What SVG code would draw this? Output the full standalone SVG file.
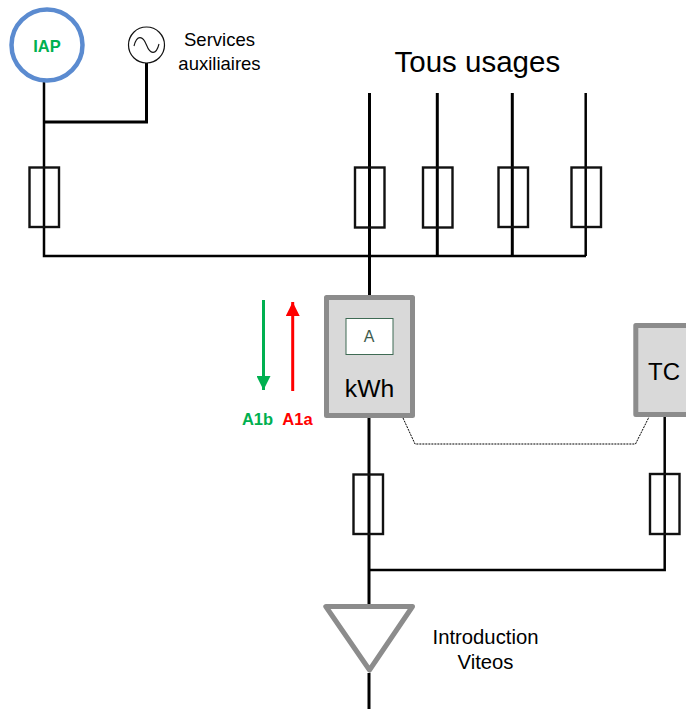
<svg xmlns="http://www.w3.org/2000/svg" width="686" height="709" viewBox="0 0 686 709">
<style>
text{font-family:"Liberation Sans",Arial,sans-serif;fill:#000}
.m{text-anchor:middle}
.w{fill:none;stroke:#000;stroke-width:3}
.f{fill:none;stroke:#111;stroke-width:2.4}
.box{fill:#d9d9d9;stroke:#8c8c8c;stroke-width:5;stroke-linejoin:round}
.b{font-weight:bold;font-size:16.500px}
</style>
<defs>
<marker id="ag" markerUnits="userSpaceOnUse" markerWidth="14" markerHeight="14" refX="14" refY="7" orient="auto"><path d="M0 0L14 7L0 14Z" fill="#00b050"/></marker>
<marker id="ar" markerUnits="userSpaceOnUse" markerWidth="14" markerHeight="14" refX="14" refY="7" orient="auto"><path d="M0 0L14 7L0 14Z" fill="#f00"/></marker>
</defs>
<g id="connectors">
<path class="w" d="M44 80V256H586" style="stroke-width:2.500"/>
<path class="w" d="M44 122H146.500V63"/>
<path class="w" d="M369.500 93V300"/>
<path class="w" d="M437.300 93V256"/>
<path class="w" d="M512.300 93V256"/>
<path class="w" d="M585.700 93V256" style="stroke-width:2.500"/>
<path class="w" d="M369 417V605"/>
<path class="w" d="M369 673V709"/>
<path class="w" d="M664.700 417V570H369" style="stroke-width:2.500"/>
<path d="M403 418L415 444H635.500L649 417" fill="none" stroke="#000" stroke-width="1" stroke-dasharray="2 1"/>
<path d="M263.500 300V390" fill="none" stroke="#00b050" stroke-width="3" marker-end="url(#ag)"/>
<path d="M292.700 391V302" fill="none" stroke="#f00" stroke-width="3" marker-end="url(#ar)"/>
</g>
<g id="iap"><circle cx="47" cy="45" r="35.500" fill="#fff" stroke="#5b8bd0" stroke-width="4.500"/><text class="m b" x="47" y="51.500" style="fill:#00b050">IAP</text></g>
<g id="source"><circle cx="146.500" cy="45" r="18" fill="#fff" stroke="#111" stroke-width="1.200"/><path d="M134 46C137 34 143 36 146.500 45S156 56 159 44" fill="none" stroke="#111" stroke-width="1.100"/></g>
<g id="label-services"><text class="m" x="219.500" y="46" font-size="18.500">Services</text><text class="m" x="219.500" y="69.500" font-size="18.500">auxiliaires</text></g>
<g id="label-usages"><text x="394.500" y="72" font-size="29.500">Tous usages</text></g>
<g id="fuse-1"><rect class="f" x="29.500" y="167.500" width="29.500" height="59.500"/></g>
<g id="fuse-2"><rect class="f" x="355" y="167.500" width="29.500" height="60"/></g>
<g id="fuse-3"><rect class="f" x="423" y="167.500" width="29.500" height="60"/></g>
<g id="fuse-4"><rect class="f" x="498.500" y="167.500" width="29.500" height="59.500"/></g>
<g id="fuse-5"><rect class="f" x="571.500" y="167.500" width="29.500" height="59.500"/></g>
<g id="fuse-6"><rect class="f" x="353.500" y="474.500" width="29.500" height="59.500"/></g>
<g id="fuse-7"><rect class="f" x="650" y="474" width="29.500" height="60"/></g>
<g id="kwh"><rect class="box" x="326.500" y="297.500" width="86" height="118"/><rect x="346" y="318.500" width="47" height="36" fill="#fff" stroke="#3f6b54" stroke-width="1"/><text class="m" x="369" y="342" font-size="16" style="fill:#3e5b4c">A</text><text class="m" x="369.500" y="397" font-size="24.700">kWh</text></g>
<g id="tc"><rect class="box" x="635.800" y="325.500" width="70" height="89"/><text x="648" y="379.500" font-size="24">TC</text></g>
<g id="a1b"><text class="m b" x="257.500" y="425" style="fill:#00b050">A1b</text></g>
<g id="a1a"><text class="m b" x="297.500" y="425" style="fill:#f00">A1a</text></g>
<g id="intro"><path d="M325.800 606.500H412.500L369.500 670Z" fill="none" stroke="#8c8c8c" stroke-width="5" stroke-linejoin="round"/><text class="m" x="485.500" y="644" font-size="20.300">Introduction</text><text class="m" x="485.500" y="669" font-size="20.300">Viteos</text></g>
</svg>
